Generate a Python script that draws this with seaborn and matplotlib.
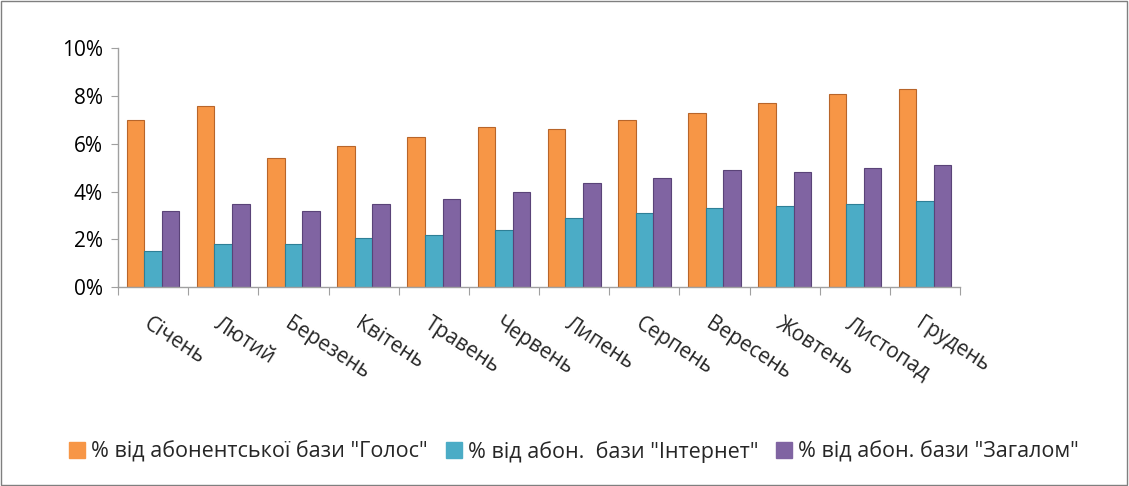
import numpy as np
import pandas as pd
import seaborn as sns
import matplotlib
matplotlib.use("Agg")
from matplotlib import pyplot as plt
from matplotlib.patches import Rectangle
from matplotlib.ticker import FuncFormatter
from matplotlib.lines import Line2D

months = ['Січень', 'Лютий', 'Березень', 'Квітень', 'Травень', 'Червень',
          'Липень', 'Серпень', 'Вересень', 'Жовтень', 'Листопад', 'Грудень']
series = ['% від абонентської бази "Голос"',
          '% від абон.  бази "Інтернет"',
          '% від абон. бази "Загалом"']
voice = [7.0, 7.6, 5.4, 5.9, 6.3, 6.7, 6.6, 7.0, 7.3, 7.7, 8.1, 8.3]
internet = [1.5, 1.8, 1.8, 2.05, 2.2, 2.4, 2.9, 3.1, 3.3, 3.4, 3.5, 3.6]
total = [3.2, 3.5, 3.2, 3.5, 3.7, 4.0, 4.35, 4.55, 4.9, 4.8, 5.0, 5.1]
colors = ['#F79646', '#4BACC6', '#8064A2']
edges = ['#B8652A', '#2E7F96', '#5A4378']

df = pd.DataFrame({
    'month': months * 3,
    'series': [series[0]] * 12 + [series[1]] * 12 + [series[2]] * 12,
    'value': voice + internet + total,
})

sns.set_style('white')
plt.rcParams['font.family'] = ['Open Sans', 'DejaVu Sans']

fig = plt.figure(figsize=(11.29, 4.86), dpi=100)
ax = fig.add_axes([0.1045, 0.409, 0.746, 0.492])

sns.barplot(data=df, x='month', y='value', hue='series', palette=colors,
            width=0.75, gap=0, ax=ax, legend=False, saturation=1)

for i, cont in enumerate(ax.containers):
    for bar in cont:
        bar.set_edgecolor(edges[i])
        bar.set_linewidth(0.8)

ax.set_ylim(0, 10)
ax.set_xlim(-0.5, 11.5)
ax.set_yticks([0, 2, 4, 6, 8, 10])
ax.yaxis.set_major_formatter(FuncFormatter(lambda v, p: '{:d}%'.format(int(v))))
ax.tick_params(axis='y', labelsize=15, colors='#000000', length=5, direction='out',
               left=True, color='#A0A0A0', pad=6)
ax.set_xticks(np.arange(-0.5, 12, 1), minor=False)
ax.set_xticklabels([])
ax.tick_params(axis='x', length=6, direction='out', bottom=True, color='#A0A0A0')
ax.set_xlabel('')
ax.set_ylabel('')
for s in ['top', 'right']:
    ax.spines[s].set_visible(False)
for s in ['left', 'bottom']:
    ax.spines[s].set_color('#A0A0A0')
    ax.spines[s].set_linewidth(1.0)

# rotated month labels
for i, m in enumerate(months):
    ax.text(i - 0.02, -1.1, m, rotation=-33, rotation_mode='anchor',
            ha='left', va='top', fontsize=15)

handles = [Line2D([0], [0], marker='s', linestyle='', markersize=11,
                  markerfacecolor=c, markeredgecolor=c) for c in colors]
fig.legend(handles, series, loc='center', bbox_to_anchor=(0.509, 0.07), ncol=3,
           frameon=False, fontsize=15.5, handlelength=0.6, handletextpad=0.35,
           columnspacing=0.9)

fig.patches.append(Rectangle((0.001, 0.002), 0.997, 0.996, transform=fig.transFigure,
                             fill=False, edgecolor='#7F7F7F', linewidth=1.0))

fig.savefig('out.png', dpi=100)
